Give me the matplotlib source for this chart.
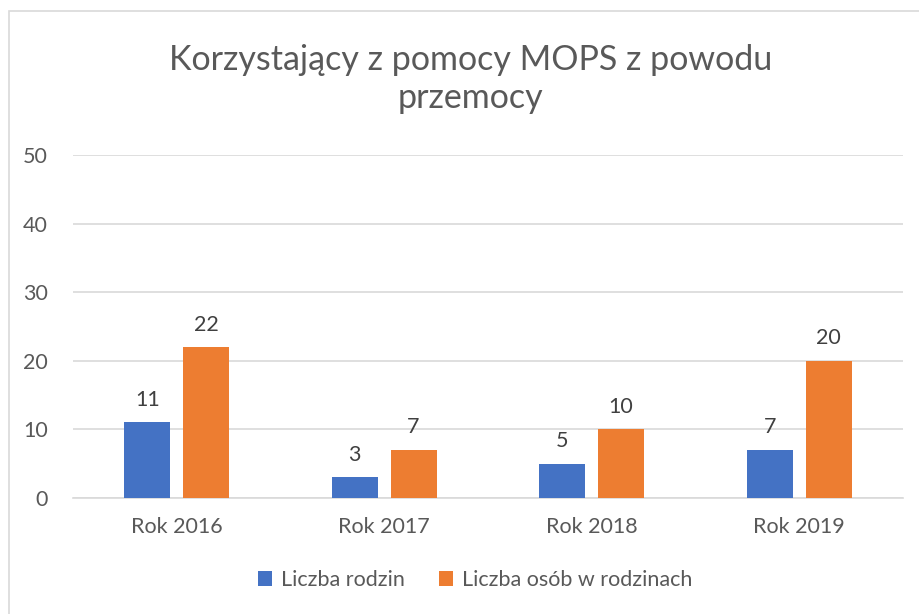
import matplotlib.pyplot as plt
import numpy as np
from matplotlib.patches import Rectangle

plt.rcParams['font.family'] = ['Lato', 'DejaVu Sans']

years = ['Rok 2016', 'Rok 2017', 'Rok 2018', 'Rok 2019']
rodziny = [11, 3, 5, 7]
osoby = [22, 7, 10, 20]
series_names = ['Liczba rodzin', 'Liczba osób w rodzinach']

blue = '#4472C4'
orange = '#ED7D31'
text_col = '#595959'

fig = plt.figure(figsize=(9.19, 6.14), dpi=100)
ax = fig.add_axes([0.0794, 0.189, 0.903, 0.5586])

x = np.arange(len(years))
w = 0.222
b1 = ax.bar(x - 0.142, rodziny, w, color=blue, label=series_names[0], zorder=3)
b2 = ax.bar(x + 0.142, osoby, w, color=orange, label=series_names[1], zorder=3)
for b in (b1, b2):
    ax.bar_label(b, padding=9, fontsize=15.5, color='#404040')

ax.set_xlim(-0.5, 3.5)
ax.set_ylim(0, 50)
ax.set_yticks(range(0, 51, 10))
ax.set_xticks(x)
ax.set_xticklabels(years)
ax.tick_params(axis='both', length=0, labelsize=15.5, colors=text_col)
ax.tick_params(axis='y', pad=18)
ax.tick_params(axis='x', pad=14)
ax.grid(axis='y', color='#d9d9d9', linewidth=1.2, zorder=0)
for s in ['top', 'right', 'left']:
    ax.spines[s].set_visible(False)
ax.spines['bottom'].set_color('#d9d9d9')
ax.spines['bottom'].set_linewidth(1.2)

fig.text(0.512, 0.871, 'Korzystający z pomocy MOPS z powodu\nprzemocy', ha='center', va='center',
         fontsize=24.5, color=text_col, linespacing=1.25)

fig.legend(loc='center', bbox_to_anchor=(0.517, 0.055), ncol=2, frameon=False,
           fontsize=15.5, labelcolor=text_col, handlelength=0.65, handleheight=0.65,
           handletextpad=0.4, columnspacing=1.6)

# chart border
fig.patches.append(Rectangle((8.5 / 919, -0.2), 1.2, 1.2 - 11.5 / 614, transform=fig.transFigure,
                             fill=False, edgecolor='#d9d9d9', linewidth=1.2))

fig.savefig('out.png', dpi=100)
